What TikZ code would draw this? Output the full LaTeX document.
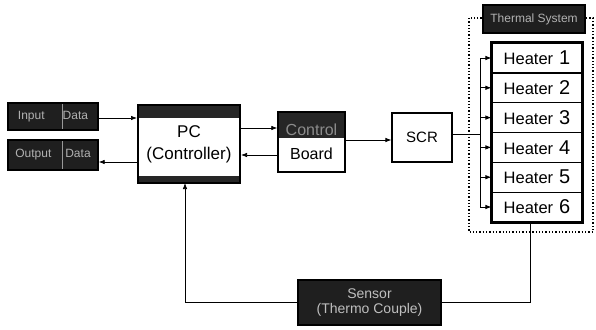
\documentclass[tikz,border=0pt]{standalone}
\usepackage{fontspec}
\setmainfont{Liberation Sans}
\usetikzlibrary{arrows.meta}
\begin{document}
\begin{tikzpicture}[x=1pt,y=-1pt,
  box/.style={draw=black, line width=1.4pt, inner sep=0pt, align=center, font=\fontsize{16}{18}\selectfont},
  darkbox/.style={box, fill=black!88, text=black!30, font=\fontsize{12}{12}\selectfont},
  conn/.style={line width=0.7pt, -{Latex[length=6pt,width=4.5pt]}},
  wire/.style={line width=0.7pt},
  frame/.style={line width=1.3pt, dotted}]
\useasboundingbox[fill=white] (0,0) rectangle (596,329);

% left boxes
\node[darkbox, minimum width=90pt, minimum height=27pt] (in) at (53,116.5) {Input\hspace{18pt}Data};
\node[darkbox, minimum width=90pt, minimum height=30pt] (out) at (53,155) {Output\hspace{14pt}Data};
\draw[black!40, line width=0.6pt] (62,104) -- (62,129) (62,141) -- (62,169);

% PC
\node[box, line width=2pt, minimum width=102pt, minimum height=78pt, font=\fontsize{17}{19}\selectfont,
  path picture={\fill[black!85] (path picture bounding box.north west) rectangle ([yshift=-13pt]path picture bounding box.north east);
                \fill[black!85] (path picture bounding box.south west) rectangle ([yshift=7pt]path picture bounding box.south east);}]
  (pc) at (189,144) {PC\\[3pt](Controller)};

% Control board
\node[box, minimum width=67pt, minimum height=60pt,
  path picture={\fill[black!85] (path picture bounding box.north west) rectangle ([yshift=4pt]path picture bounding box.east);}]
  (board) at (311.5,142) {\textcolor{black!45}{Control}\\[6pt]Board};

% SCR
\node[box, line width=1.2pt, minimum width=60pt, minimum height=49pt, font=\fontsize{15}{16}\selectfont] (scr) at (422,137.5) {SCR};

% Thermal system frame and title
\draw[frame] (469,18) -- (469,232) -- (593,232) -- (593,18) -- cycle;
\node[darkbox, minimum width=102pt, minimum height=28pt, font=\fontsize{12}{12}\selectfont] (title) at (534,19) {Thermal System};

% heaters
\foreach \i in {1,...,6}{
  \node[box, line width=1.2pt, minimum width=90pt, minimum height=29.8pt, font=\fontsize{16.5}{18}\selectfont]
    (h\i) at (537,{58+29.8*(\i-1)}) {Heater\hspace{6pt}{\fontsize{20}{20}\selectfont\i}};
}
\draw[line width=2.2pt] (h1.north west) rectangle (h6.south east);

% connectors
\draw[conn] (in.east |- 0,118) -- (pc.west |- 0,118);
\draw[conn] (pc.west |- 0,162) -- (out.east |- 0,162);
\draw[conn] (pc.east |- 0,128) -- (board.west |- 0,128);
\draw[conn] (board.west |- 0,155) -- (pc.east |- 0,155);
\draw[conn] (board.east |- 0,140) -- (scr.west |- 0,140);

\coordinate (bus) at (480,134);
\draw[wire] (scr.east |- bus) -- (bus);
\draw[wire] (bus |- h1.west) -- (bus |- h6.west);
\foreach \i in {1,...,6}{
  \draw[conn] (bus |- h\i.west) -- (h\i.west);
}

% sensor
\node[darkbox, minimum width=143pt, minimum height=45pt, text=black!25, font=\fontsize{14}{15}\selectfont] (sensor) at (369.5,302.5) {Sensor\\(Thermo Couple)};
\coordinate (hb) at (530,222);
\coordinate (pcin) at (185,183);
\draw[wire] (sensor.east) -| (hb);
\draw[conn] (sensor.west) -| (pcin);
\end{tikzpicture}
\end{document}
